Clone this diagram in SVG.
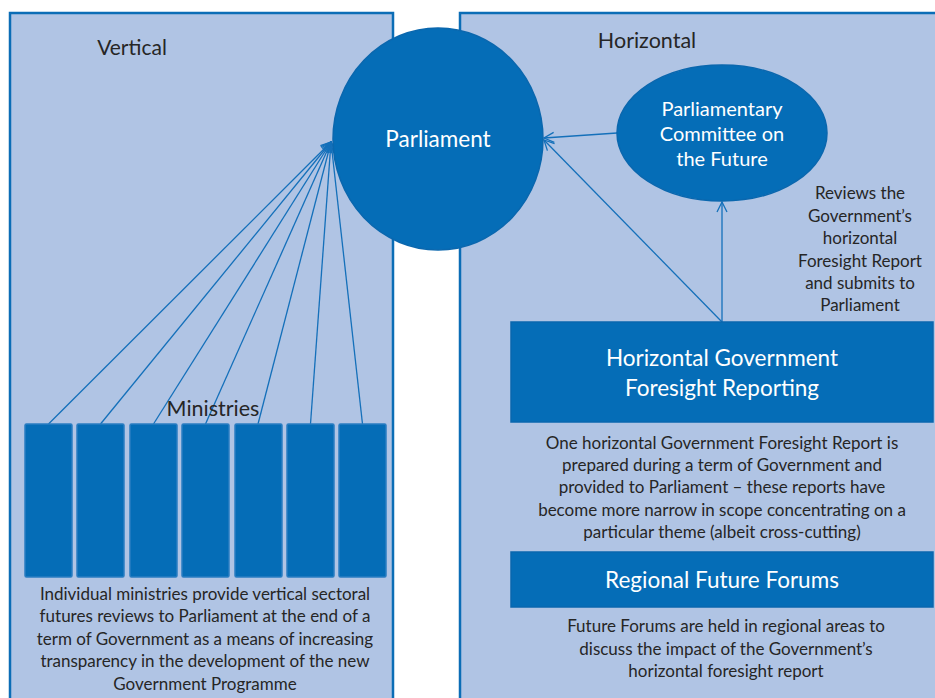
<svg xmlns="http://www.w3.org/2000/svg" width="935" height="698" viewBox="0 0 935 698">
<defs>
<style>
.panel{fill:#B0C4E4;stroke:#0B6DB6;stroke-width:2.5}
.node{fill:#056DB7;stroke:#0A67AE;stroke-width:1.5}
.bar{fill:#056DB7;stroke:#2A7DC2;stroke-width:1.5}
.lbl{font-family:Lato,"Liberation Sans",sans-serif;fill:#262626;text-anchor:middle}
.wt{font-family:Lato,"Liberation Sans",sans-serif;fill:#FFFFFF;text-anchor:middle}
.note{font-size:17px}
.conn{stroke:#1470BA;stroke-width:1.3;fill:none;marker-end:url(#arr)}
</style>
<marker id="arr" viewBox="0 0 12 12" refX="11" refY="6" markerWidth="12" markerHeight="12" markerUnits="userSpaceOnUse" orient="auto">
<path d="M1,1 L11,6 L1,11" fill="none" stroke="#1470BA" stroke-width="1.3"/>
</marker>
</defs>
<rect width="935" height="698" fill="#FFFFFF"/>
<g id="vertical-panel">
<rect class="panel" x="10" y="13" width="383" height="700"/>
<text class="lbl" x="132" y="55" font-size="21">Vertical</text>
</g>
<g id="horizontal-panel">
<rect class="panel" x="460" y="13" width="500" height="700"/>
<text class="lbl" x="647" y="48" font-size="21.5">Horizontal</text>
</g>
<g id="connectors">
<line class="conn" x1="48.5" y1="424" x2="331" y2="142"/>
<line class="conn" x1="100.5" y1="424" x2="331" y2="142"/>
<line class="conn" x1="153.5" y1="424" x2="331" y2="142"/>
<line class="conn" x1="205.5" y1="424" x2="331" y2="142"/>
<line class="conn" x1="258" y1="424" x2="331" y2="142"/>
<line class="conn" x1="310.5" y1="424" x2="331" y2="142"/>
<line class="conn" x1="362.5" y1="424" x2="331" y2="142"/>
<line class="conn" x1="617" y1="133" x2="544" y2="138"/>
<line class="conn" x1="722" y1="322" x2="544" y2="140"/>
<line class="conn" x1="722" y1="322" x2="722" y2="202"/>
</g>
<g id="parliament">
<ellipse class="node" cx="438" cy="139" rx="105" ry="111"/>
<text class="wt" x="438" y="147" font-size="22.5">Parliament</text>
</g>
<g id="committee">
<ellipse class="node" cx="722" cy="133" rx="105" ry="68"/>
<text class="wt" x="722" y="116" font-size="20">Parliamentary</text>
<text class="wt" x="722" y="141" font-size="20">Committee on</text>
<text class="wt" x="722" y="166" font-size="20">the Future</text>
</g>
<g id="reviews-note">
<text class="lbl note" x="860" y="199">Reviews the</text>
<text class="lbl note" x="860" y="222">Government’s</text>
<text class="lbl note" x="860" y="244">horizontal</text>
<text class="lbl note" x="860" y="267">Foresight Report</text>
<text class="lbl note" x="860" y="289">and submits to</text>
<text class="lbl note" x="860" y="311">Parliament</text>
</g>
<g id="ministries">
<text class="lbl" x="213" y="416" font-size="21.5">Ministries</text>
<rect class="bar" x="25" y="424" width="47" height="153" rx="1.5"/>
<rect class="bar" x="77" y="424" width="47" height="153" rx="1.5"/>
<rect class="bar" x="130" y="424" width="47" height="153" rx="1.5"/>
<rect class="bar" x="182" y="424" width="47" height="153" rx="1.5"/>
<rect class="bar" x="235" y="424" width="47" height="153" rx="1.5"/>
<rect class="bar" x="287" y="424" width="47" height="153" rx="1.5"/>
<rect class="bar" x="339" y="424" width="47" height="153" rx="1.5"/>
</g>
<g id="ministries-note">
<text class="lbl note" x="205" y="600">Individual ministries provide vertical sectoral</text>
<text class="lbl note" x="205" y="622">futures reviews to Parliament at the end of a</text>
<text class="lbl note" x="205" y="645">term of Government as a means of increasing</text>
<text class="lbl note" x="205" y="667">transparency in the development of the new</text>
<text class="lbl note" x="205" y="690">Government Programme</text>
</g>
<g id="hgfr">
<rect class="node" x="511" y="322" width="422" height="100"/>
<text class="wt" x="722" y="366" font-size="22.5">Horizontal Government</text>
<text class="wt" x="722" y="396" font-size="22.5">Foresight Reporting</text>
</g>
<g id="hgfr-note">
<text class="lbl note" x="722" y="449">One horizontal Government Foresight Report is</text>
<text class="lbl note" x="722" y="471">prepared during a term of Government and</text>
<text class="lbl note" x="722" y="493">provided to Parliament – these reports have</text>
<text class="lbl note" x="722" y="516">become more narrow in scope concentrating on a</text>
<text class="lbl note" x="722" y="538">particular theme (albeit cross-cutting)</text>
</g>
<g id="regional">
<rect class="node" x="511" y="552" width="422" height="55"/>
<text class="wt" x="722" y="588" font-size="22.5">Regional Future Forums</text>
</g>
<g id="regional-note">
<text class="lbl note" x="726" y="632">Future Forums are held in regional areas to</text>
<text class="lbl note" x="726" y="655">discuss the impact of the Government’s</text>
<text class="lbl note" x="726" y="677">horizontal foresight report</text>
</g>
</svg>
